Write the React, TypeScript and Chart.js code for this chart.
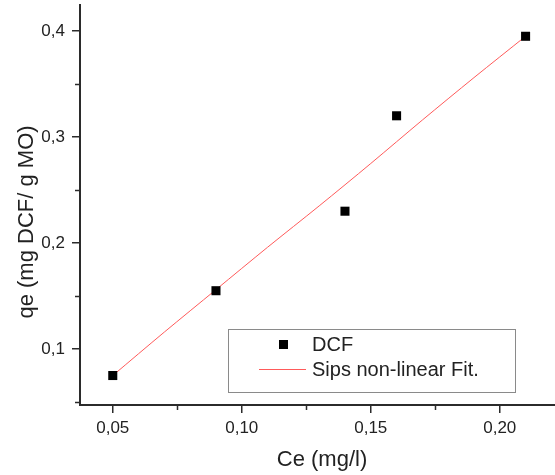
import React, { useEffect, useRef } from "react";
import { Chart, registerables } from "chart.js";

Chart.register(...registerables);

// ---- data ----
const pointX = [0.05, 0.09, 0.14, 0.16, 0.21];
const pointY = [0.075, 0.155, 0.23, 0.32, 0.395];

const fitX = [0.05, 0.07, 0.09, 0.11, 0.13, 0.15, 0.17, 0.19, 0.21];
const fitY = [0.075, 0.116, 0.156, 0.196, 0.235, 0.275, 0.316, 0.356, 0.395];

const xMajorTicks = [0.05, 0.1, 0.15, 0.2];
const xTickLabels = ["0,05", "0,10", "0,15", "0,20"];
const xMinorTicks = [0.075, 0.125, 0.175];

const yMajorTicks = [0.1, 0.2, 0.3, 0.4];
const yTickLabels = ["0,1", "0,2", "0,3", "0,4"];
const yMinorTicks = [0.05, 0.15, 0.25, 0.35];

const xTitle = "Ce (mg/l)";
const yTitle = "qe (mg DCF/ g MO)";
const legendLabels = ["DCF", "Sips non-linear Fit."];

const X_MIN = 0.0373;
const X_MAX = 0.2214;
const Y_MIN = 0.0472;
const Y_MAX = 0.4245;

// ---- styles ----
const FONT = "'Liberation Sans', Arial, sans-serif";
const AXIS_COLOR = "#2b2b2b";
const TEXT_COLOR = "#222222";
const FIT_COLOR = "#ff5a5a";

function labelFor(values: number[], labels: string[], v: number) {
  const i = values.findIndex((t) => Math.abs(t - v) < 1e-6);
  return i >= 0 ? labels[i] : "";
}

const decorPlugin = {
  id: "decor",
  afterDraw(chart: any) {
    const ctx = chart.ctx as CanvasRenderingContext2D;
    const xs = chart.scales.x;
    const ys = chart.scales.y;
    const area = chart.chartArea;
    ctx.save();
    // minor ticks
    ctx.strokeStyle = AXIS_COLOR;
    ctx.lineWidth = 1.5;
    xMinorTicks.forEach((v) => {
      const px = Math.round(xs.getPixelForValue(v)) + 0.5;
      ctx.beginPath();
      ctx.moveTo(px, area.bottom);
      ctx.lineTo(px, area.bottom + 5);
      ctx.stroke();
    });
    yMinorTicks.forEach((v) => {
      const py = Math.round(ys.getPixelForValue(v)) + 0.5;
      ctx.beginPath();
      ctx.moveTo(area.left, py);
      ctx.lineTo(area.left - 5, py);
      ctx.stroke();
    });

    // axis titles
    ctx.fillStyle = TEXT_COLOR;
    ctx.font = `22px ${FONT}`;
    ctx.textAlign = "center";
    ctx.textBaseline = "middle";
    ctx.fillText(xTitle, 322, 460);
    ctx.save();
    ctx.translate(27, 222);
    ctx.rotate(-Math.PI / 2);
    ctx.fillText(yTitle, 0, 0);
    ctx.restore();

    // legend box
    ctx.strokeStyle = "#8a8a8a";
    ctx.lineWidth = 1;
    ctx.strokeRect(228.5, 329.5, 287, 63);
    ctx.fillStyle = "#000";
    ctx.fillRect(279, 340, 9, 9);
    ctx.strokeStyle = FIT_COLOR;
    ctx.beginPath();
    ctx.moveTo(259, 369.5);
    ctx.lineTo(306, 369.5);
    ctx.stroke();
    ctx.fillStyle = TEXT_COLOR;
    ctx.font = `20px ${FONT}`;
    ctx.textAlign = "left";
    ctx.textBaseline = "middle";
    ctx.fillText(legendLabels[0], 312, 345);
    ctx.fillText(legendLabels[1], 312, 370);
    ctx.restore();
  },
};

export default function App() {
  const ref = useRef<HTMLCanvasElement>(null);

  useEffect(() => {
    if (!ref.current) return;
    const chart = new Chart(ref.current, {
      type: "scatter",
      data: {
        datasets: [
          {
            label: legendLabels[0],
            data: pointX.map((x, i) => ({ x, y: pointY[i] })),
            pointStyle: "rect",
            pointRadius: 6.4,
            pointBorderWidth: 0,
            backgroundColor: "#000",
            borderColor: "#000",
            showLine: false,
          },
          {
            label: legendLabels[1],
            data: fitX.map((x, i) => ({ x, y: fitY[i] })),
            showLine: true,
            pointRadius: 0,
            borderColor: FIT_COLOR,
            borderWidth: 1,
            tension: 0.3,
            fill: false,
          },
        ],
      },
      options: {
        responsive: false,
        animation: false,
        events: [],
        layout: { autoPadding: false, padding: { top: 5, right: 0, bottom: 0, left: 0 } },
        plugins: {
          legend: { display: false },
          tooltip: { enabled: false },
        },
        scales: {
          x: {
            type: "linear",
            min: X_MIN,
            max: X_MAX,
            afterBuildTicks: (scale: any) => {
              scale.ticks = xMajorTicks.map((v) => ({ value: v }));
            },
            afterFit: (scale: any) => {
              scale.height = 70;
              scale.paddingLeft = 0;
              scale.paddingRight = 0;
            },
            ticks: {
              autoSkip: false,
              maxRotation: 0,
              padding: 5,
              color: TEXT_COLOR,
              font: { family: FONT, size: 17 },
              callback: (v: any) => labelFor(xMajorTicks, xTickLabels, Number(v)),
            },
            grid: {
              display: true,
              drawOnChartArea: false,
              drawTicks: true,
              tickLength: 8,
              color: AXIS_COLOR,
              lineWidth: 1.5,
            },
            border: { display: true, color: AXIS_COLOR, width: 2 },
          },
          y: {
            type: "linear",
            min: Y_MIN,
            max: Y_MAX,
            afterBuildTicks: (scale: any) => {
              scale.ticks = yMajorTicks.map((v) => ({ value: v }));
            },
            afterFit: (scale: any) => {
              scale.width = 80;
              scale.paddingTop = 0;
              scale.paddingBottom = 0;
            },
            ticks: {
              autoSkip: false,
              padding: 7,
              color: TEXT_COLOR,
              font: { family: FONT, size: 17 },
              callback: (v: any) => labelFor(yMajorTicks, yTickLabels, Number(v)),
            },
            grid: {
              display: true,
              drawOnChartArea: false,
              drawTicks: true,
              tickLength: 8,
              color: AXIS_COLOR,
              lineWidth: 1.5,
            },
            border: { display: true, color: AXIS_COLOR, width: 2 },
          },
        },
      },
      plugins: [decorPlugin],
    });
    return () => chart.destroy();
  }, []);

  return (
    <div style={{ position: "absolute", left: 0, top: 0, width: 555, height: 475 }}>
      <canvas ref={ref} width={555} height={475} style={{ display: "block" }} />
    </div>
  );
}
